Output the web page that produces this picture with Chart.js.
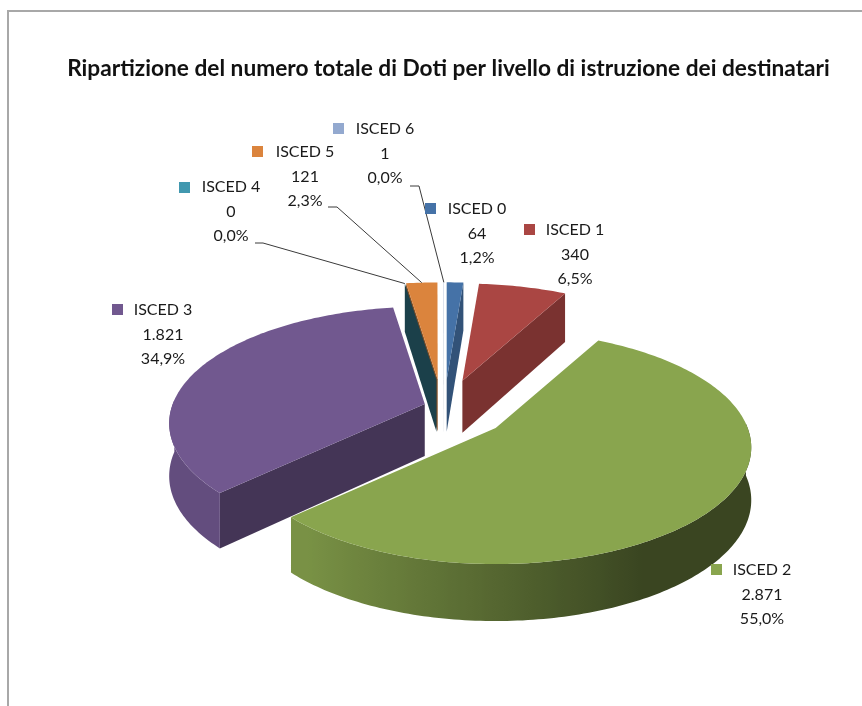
<!DOCTYPE html>
<html>
<head>
<meta charset="utf-8">
<title>Ripartizione Doti</title>
<script src="https://cdn.jsdelivr.net/npm/chart.js@4"></script>
<style>
  html, body { margin: 0; padding: 0; background: #fff; overflow: hidden; }
  #wrap { position: relative; width: 862px; height: 706px; }
  #frame { position: absolute; left: 7px; top: 10px; right: 0; bottom: 0; border-left: 2px solid #a8a8a8; border-top: 2px solid #a8a8a8; }
</style>
</head>
<body>
<div id="wrap">
  <div id="frame"></div>
  <canvas id="pie" width="862" height="706" style="position:absolute;left:0;top:0"></canvas>
</div>
<script>
const titleText = 'Ripartizione del numero totale di Doti per livello di istruzione dei destinatari';
const categories = ['ISCED 0', 'ISCED 1', 'ISCED 2', 'ISCED 3', 'ISCED 4', 'ISCED 5', 'ISCED 6'];
const values = [64, 340, 2871, 1821, 0, 121, 1];
const colors = ['#4572A7', '#AA4643', '#89A54E', '#71588F', '#4198AF', '#DB843D', '#93A9CF'];

// styling only
const explode = 44.6;
const nudgeX = [-2, 3, 13, 20, -4, -6, -3];
const nudgeY = [0, 0, -2, 3, 0, 0, 0];
const cutShade = [0.72, 0.72, 0.6, 0.6, 0.42, 0.6, 0.7];
const drawOrder = [0, 1, 2, 3, 5, 4, 6];
const labelPos = [
  { key: [425, 203], text: 477, y: 209 },
  { key: [524, 224], text: 575, y: 230 },
  { key: [711, 564], text: 762, y: 570 },
  { key: [112, 304], text: 163, y: 310 },
  { key: [179, 182], text: 231, y: 187 },
  { key: [252, 146], text: 305, y: 152 },
  { key: [333, 123], text: 385, y: 129 }
];
const leaders = { 4: [255, 243, 263], 5: [328, 207, 337], 6: [410, 186, 419] };

const tiltY = 0.45;   // vertical squash of the pie plane
const persp = 0.167;  // how much nearer parts grow
const depth = 52;     // height of the pie at mid distance
const shiftX = -1.5;
const explodeBoostY = 1.57;

const total = values.reduce((a, b) => a + b, 0);

function itNumber(v) {
  return String(v).replace(/\B(?=(\d{3})+(?!\d))/g, '.');
}
function itPercent(v) {
  return (v / total * 100).toFixed(1).replace('.', ',') + '%';
}

function shade(hex, f) {
  const n = parseInt(hex.slice(1), 16);
  const r = Math.min(255, Math.round((n >> 16) * f));
  const g = Math.min(255, Math.round(((n >> 8) & 255) * f));
  const b = Math.min(255, Math.round((n & 255) * f));
  return `rgb(${r},${g},${b})`;
}

// arc position on the tilted plane, r = 0 is the tip of the slice
function project(arc, i, angle, r, down) {
  const mid = (arc.startAngle + arc.endAngle) / 2;
  const off = arc.options.offset;
  const rimY = Math.sin(angle) * r;
  const s = 1 / (1 - persp * rimY / arc.outerRadius);
  return {
    x: arc.x + shiftX + nudgeX[i] + Math.cos(mid) * off + Math.cos(angle) * r * s,
    y: arc.y + nudgeY[i] + tiltY * (Math.sin(mid) * off * explodeBoostY + rimY * s) + (down ? depth * Math.sqrt(s) : 0)
  };
}

function wallShade(angle) {
  return Math.min(0.88, Math.max(0.42, 0.62 - 0.4 * Math.cos(angle)));
}

// 3D pie: the arcs come from the doughnut controller, only the projection is ours
const pie3dPlugin = {
  id: 'pie3d',
  beforeDatasetsDraw(chart) {
    const ctx = chart.ctx;
    const arcs = chart.getDatasetMeta(0).data;
    const step = Math.PI / 180;

    drawOrder.forEach((i) => {
      const arc = arcs[i];
      const R = arc.outerRadius;
      const color = arc.options.backgroundColor;
      const apex = project(arc, i, 0, 0, false);
      const apexLow = project(arc, i, 0, 0, true);

      const cutFace = (angle) => {
        const a = project(arc, i, angle, R, false);
        const b = project(arc, i, angle, R, true);
        ctx.beginPath();
        ctx.moveTo(apex.x, apex.y);
        ctx.lineTo(a.x, a.y);
        ctx.lineTo(b.x, b.y);
        ctx.lineTo(apexLow.x, apexLow.y);
        ctx.closePath();
        ctx.fillStyle = shade(color, cutShade[i]);
        ctx.fill();
      };
      // a cut face is only seen when it turns towards the viewer
      if (Math.cos(arc.endAngle) > 0) cutFace(arc.endAngle);
      if (Math.cos(arc.startAngle) < 0) cutFace(arc.startAngle);

      // outer wall, lit from the left
      const front = [];
      for (let a = arc.startAngle; a < arc.endAngle; a += step) {
        if (Math.sin(a) >= -0.05) front.push(a);
      }
      if (front.length > 1) {
        const top = front.map((a) => project(arc, i, a, R, false));
        const low = front.map((a) => project(arc, i, a, R, true));
        const xs = top.map((p) => p.x);
        const minX = Math.min(...xs);
        const maxX = Math.max(...xs);
        const grad = ctx.createLinearGradient(minX, 0, maxX, 0);
        front.forEach((a, n) => {
          grad.addColorStop((xs[n] - minX) / (maxX - minX), shade(color, wallShade(a)));
        });
        ctx.beginPath();
        top.forEach((p, n) => (n ? ctx.lineTo(p.x, p.y) : ctx.moveTo(p.x, p.y)));
        low.reverse().forEach((p) => ctx.lineTo(p.x, p.y));
        ctx.closePath();
        ctx.fillStyle = grad;
        ctx.fill();
      }

      // top face
      if (arc.endAngle > arc.startAngle) {
        ctx.beginPath();
        ctx.moveTo(apex.x, apex.y);
        for (let a = arc.startAngle; a < arc.endAngle; a += step) {
          const p = project(arc, i, a, R, false);
          ctx.lineTo(p.x, p.y);
        }
        const last = project(arc, i, arc.endAngle, R, false);
        ctx.lineTo(last.x, last.y);
        ctx.closePath();
        ctx.fillStyle = color;
        ctx.fill();
      }
    });

    // leader lines end on the rim of their slice
    ctx.strokeStyle = '#3a3a3a';
    ctx.lineWidth = 1;
    Object.keys(leaders).forEach((k) => {
      const arc = arcs[k];
      const mid = (arc.startAngle + arc.endAngle) / 2;
      const end = project(arc, Number(k), mid, arc.outerRadius, false);
      const [x0, y0, x1] = leaders[k];
      ctx.beginPath();
      ctx.moveTo(x0, y0);
      ctx.lineTo(x1, y0);
      ctx.lineTo(end.x, end.y);
      ctx.stroke();
    });

    // labels
    ctx.font = '16px Lato, sans-serif';
    ctx.textAlign = 'center';
    ctx.textBaseline = 'middle';
    categories.forEach((name, i) => {
      const pos = labelPos[i];
      ctx.fillStyle = colors[i];
      ctx.fillRect(pos.key[0], pos.key[1], 11, 11);
      ctx.fillStyle = '#1a1a1a';
      ctx.fillText(name, pos.text, pos.y);
      ctx.fillText(itNumber(values[i]), pos.text, pos.y + 24.5);
      ctx.fillText(itPercent(values[i]), pos.text, pos.y + 49);
    });
    return false;
  }
};

new Chart(document.getElementById('pie'), {
  type: 'pie',
  data: {
    labels: categories,
    datasets: [{
      data: values,
      backgroundColor: colors,
      offset: explode,
      borderWidth: 0
    }]
  },
  options: {
    responsive: false,
    animation: false,
    radius: 252,
    layout: { padding: { left: 35, right: 0, top: 0, bottom: 0 } },
    plugins: {
      legend: { display: false },
      tooltip: { enabled: false },
      title: {
        display: true,
        text: titleText,
        color: '#111',
        font: { family: 'Lato, sans-serif', size: 22.7, weight: 'bold' },
        padding: { top: 55, bottom: 33.8 }
      }
    }
  },
  plugins: [pie3dPlugin]
});
</script>
</body>
</html>
